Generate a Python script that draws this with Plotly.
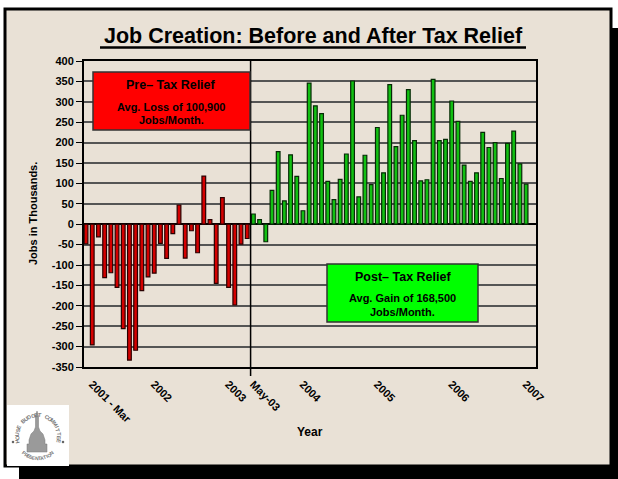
import plotly.graph_objects as go
import pandas as pd
import math

# ---------------- data ----------------
months = list(pd.date_range("2001-03-01", "2007-02-01", freq="MS").strftime("%b-%y"))
pre_values = [-48, -296, -31, -131, -119, -155, -256, -333, -309, -163, -129, -120, -47,
              -84, -23, 47, -83, -16, -70, 118, 11, -145, 65, -155, -198, -49, -35]
post_values = [25, 11, -43, 83, 178, 57, 170, 117, 33, 346, 290, 271, 105, 60, 110,
               172, 351, 67, 169, 97, 237, 126, 342, 190, 267, 330, 205, 106, 109, 355,
               205, 208, 302, 252, 145, 105, 126, 225, 188, 200, 112, 198, 228, 148, 98]
pre_months = months[:len(pre_values)]
post_months = months[len(pre_values):]

x_tick_months = ["Mar-01", "Jan-02", "Jan-03", "May-03", "Jan-04", "Jan-05", "Jan-06", "Jan-07"]
x_tick_labels = ["2001 - Mar", "2002", "2003", "May-03", "2004", "2005", "2006", "2007"]
y_tick_values = [400, 350, 300, 250, 200, 150, 100, 50, 0, -50, -100, -150, -200, -250, -300, -350]
y_tick_labels = ["400", "350", "300", "250", "200", "150", "100", "50", "0", "-50", "-100",
                 "-150", "-200", "-250", "-300", "-350"]

title_text = "Job Creation: Before and After Tax Relief"
pre_box = ["Pre\u2013 Tax Relief", "Avg. Loss of 100,900", "Jobs/Month."]
post_box = ["Post\u2013 Tax Relief", "Avg. Gain of 168,500", "Jobs/Month."]

# ---------------- layout helpers ----------------
W, H = 618, 479
L, R, T, B = 84, 536, 61, 367
BEIGE = "#E9E1D6"
FONT = "Liberation Sans"


def px(x):
    return (x - L) / (R - L)


def py(y):
    return (B - y) / (B - T)


fig = go.Figure()
fig.add_trace(go.Bar(x=pre_months, y=pre_values, width=0.6,
                     marker=dict(color="#d40000", line=dict(color="#2a0000", width=1.2)),
                     showlegend=False))
fig.add_trace(go.Bar(x=post_months, y=post_values, width=0.6,
                     marker=dict(color="#12c012", line=dict(color="#062a06", width=1.2)),
                     showlegend=False))

shapes = []
# drop shadow + frame
shapes.append(dict(type="rect", xref="paper", yref="paper", layer="below",
                   x0=px(19), x1=px(618), y0=py(479), y1=py(28),
                   fillcolor="black", line=dict(width=0)))
shapes.append(dict(type="rect", xref="paper", yref="paper", layer="below",
                   x0=px(5), x1=px(611), y0=py(466), y1=py(9),
                   fillcolor=BEIGE, line=dict(color="black", width=3)))
# title underline
shapes.append(dict(type="line", xref="paper", yref="paper",
                   x0=px(100), x1=px(526), y0=py(47.5), y1=py(47.5),
                   line=dict(color="black", width=2.5)))
# divider at tax relief
shapes.append(dict(type="line", xref="x", yref="paper",
                   x0=26.55, x1=26.55, y0=py(376), y1=1,
                   line=dict(color="black", width=1.5)))
# pre / post boxes
shapes.append(dict(type="rect", xref="paper", yref="paper",
                   x0=px(93), x1=px(250), y0=py(130), y1=py(72),
                   fillcolor="#ff0000", line=dict(color="#333333", width=1.5)))
shapes.append(dict(type="rect", xref="paper", yref="paper",
                   x0=px(327), x1=px(478), y0=py(322), y1=py(264),
                   fillcolor="#00ff00", line=dict(color="#333333", width=1.5)))
# logo
shapes.append(dict(type="rect", xref="paper", yref="paper",
                   x0=px(7), x1=px(69), y0=py(466), y1=py(405),
                   fillcolor="white", line=dict(width=0)))


def path(points):
    return "M " + " L ".join(f"{px(a):.5f},{py(b):.5f}" for a, b in points) + " Z"


dome_pts = [(27, 452), (47, 452), (47, 444), (45, 444), (45, 440), (43, 434), (40, 431),
            (38.5, 427), (38.5, 416), (37, 411), (35.5, 416), (35.5, 427), (34, 431), (31, 434),
            (29, 440), (29, 444), (27, 444)]
shapes.append(dict(type="path", xref="paper", yref="paper", path=path(dome_pts),
                   fillcolor="#9a9a9a", line=dict(color="#7a7a7a", width=0.5)))
for cx in (13, 63):
    shapes.append(dict(type="circle", xref="paper", yref="paper",
                       x0=px(cx - 1.3), x1=px(cx + 1.3), y0=py(443.3), y1=py(440.7),
                       fillcolor="#666", line=dict(width=0)))

annotations = []
annotations.append(dict(text=title_text, xref="paper", yref="paper", x=px(313), y=py(36),
                        xanchor="center", yanchor="middle", showarrow=False,
                        font=dict(family=FONT, size=21.5, color="black", weight="bold")))
annotations.append(dict(text="Jobs in Thousands.", xref="paper", yref="paper", x=px(33), y=py(214),
                        xanchor="center", yanchor="middle", showarrow=False, textangle=-90,
                        font=dict(family=FONT, size=11, color="black", weight="bold")))
annotations.append(dict(text="Year", xref="paper", yref="paper", x=px(310), y=py(432),
                        xanchor="center", yanchor="middle", showarrow=False,
                        font=dict(family=FONT, size=12, color="black", weight="bold")))
for (lines, cx, ys) in ((pre_box, 171, (85, 107, 120)), (post_box, 402.5, (277, 298, 312))):
    for i, (txt, yy) in enumerate(zip(lines, ys)):
        annotations.append(dict(text=txt, xref="paper", yref="paper", x=px(cx), y=py(yy),
                                xanchor="center", yanchor="middle", showarrow=False,
                                font=dict(family=FONT, size=12.5 if i == 0 else 11,
                                          color="black", weight="bold")))

lcx, lcy, rad = 38, 436, 21
top_txt = "HOUSE BUDGET COMMITTEE"
for k, ch in enumerate(top_txt):
    th = 195 - k * (210 / (len(top_txt) - 1))
    annotations.append(dict(text=ch, xref="paper", yref="paper",
                            x=px(lcx + rad * math.cos(math.radians(th))),
                            y=py(lcy - rad * math.sin(math.radians(th))),
                            xanchor="center", yanchor="middle", showarrow=False,
                            textangle=90 - th,
                            font=dict(family=FONT, size=5.5, color="#777", weight="bold")))
bot_txt = "PRESENTATION"
for k, ch in enumerate(bot_txt):
    th = 232 + k * (76 / (len(bot_txt) - 1))
    annotations.append(dict(text=ch, xref="paper", yref="paper",
                            x=px(lcx + (rad + 1) * math.cos(math.radians(th))),
                            y=py(lcy - (rad + 1) * math.sin(math.radians(th))),
                            xanchor="center", yanchor="middle", showarrow=False,
                            textangle=270 - th,
                            font=dict(family=FONT, size=5, color="#777", weight="bold")))

fig.update_layout(
    width=W, height=H,
    margin=dict(l=L, r=W - R, t=T, b=H - B, pad=0),
    paper_bgcolor="white", plot_bgcolor=BEIGE,
    barmode="overlay",
    shapes=shapes, annotations=annotations,
    font=dict(family=FONT, color="black"),
)
fig.update_xaxes(type="category", categoryorder="array", categoryarray=months,
                 range=[-0.33, 72.6], tickmode="array", tickvals=x_tick_months,
                 ticktext=x_tick_labels, tickangle=45, ticklabelshift=6,
                 tickfont=dict(family=FONT, size=11, color="black", weight="bold"),
                 ticks="outside", ticklen=5, tickcolor="rgba(0,0,0,0)",
                 showgrid=False, showline=True, linecolor="black", linewidth=1.5,
                 mirror=True, zeroline=False, fixedrange=True)
fig.update_yaxes(range=[-350, 400], tickmode="array", tickvals=y_tick_values,
                 ticktext=y_tick_labels,
                 tickfont=dict(family=FONT, size=11, color="black", weight="bold"),
                 ticks="outside", ticklen=6, tickcolor="black", tickwidth=1,
                 showgrid=True, gridcolor="#555555", gridwidth=1.5,
                 zeroline=True, zerolinecolor="black", zerolinewidth=1.5,
                 showline=True, linecolor="black", linewidth=2, mirror=True,
                 fixedrange=True)

fig.write_html("out.html", config={"displayModeBar": False},
               post_script="document.body.style.margin='0px';document.body.style.overflow='hidden';")
